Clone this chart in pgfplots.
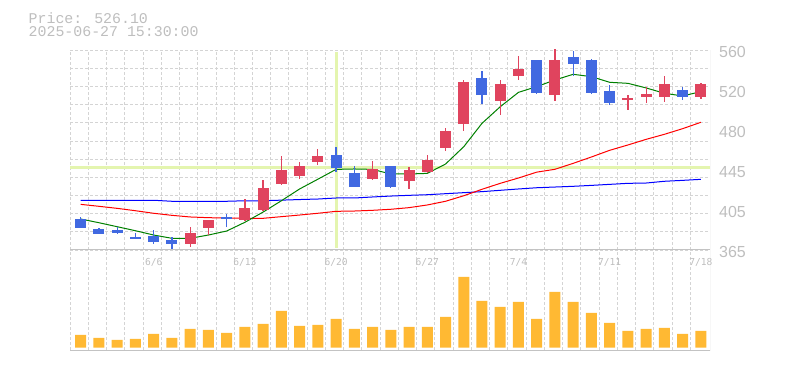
\documentclass[border=0pt]{standalone}
\usepackage{pgfplots}
\pgfplotsset{compat=1.18}
\usepackage{pgfplotstable}
\usepackage{fontspec}
\setmainfont{Liberation Sans}
\newfontfamily\monoA{Liberation Mono}
\newfontfamily\monoB{DejaVu Sans Mono}
\definecolor{txtc}{RGB}{190,190,190}
\definecolor{gridc}{RGB}{212,212,212}
\definecolor{bordc}{RGB}{195,195,195}
\definecolor{crossc}{RGB}{228,245,175}
\definecolor{upc}{RGB}{224,68,94}
\definecolor{dnc}{RGB}{65,105,225}
\definecolor{volc}{RGB}{255,185,51}
\definecolor{mag}{RGB}{0,128,0}
\definecolor{mar}{RGB}{255,0,0}
\definecolor{mab}{RGB}{0,0,255}

\pgfplotstableread{
x low high bot top
6 368.2 387.4 371.2 381.9
7 379.6 394.3 386.7 394.3
9 393.3 414.7 394.3 406.0
10 403.0 433.3 404.0 425.7
11 428.4 457.0 429.3 443.0
12 434.5 450.8 437.4 446.9
13 448.2 463.5 451.1 456.7
16 433.5 451.8 434.5 444.0
18 424.8 445.9 432.6 443.0
19 440.4 457.6 441.3 452.8
20 461.8 483.9 464.7 481.0
21 481.3 530.8 488.2 528.8
23 496.9 530.8 510.6 526.9
24 531.0 554.2 534.9 541.5
26 510.6 562.0 516.4 550.3
30 501.8 516.1 511.5 513.2
31 508.6 524.0 514.5 517.1
32 509.6 534.7 514.5 526.9
34 512.5 527.8 514.5 526.9
}\upcandles

\pgfplotstableread{
x low high bot top
0 386.7 397.2 386.7 395.2
1 380.9 386.7 380.9 385.5
2 380.6 387.4 381.9 384.5
3 376.0 381.9 376.0 377.7
4 371.2 384.5 373.1 378.7
5 366.3 377.4 371.2 374.8
8 387.4 400.4 395.5 397.2
14 441.3 465.4 445.2 457.6
15 426.7 446.9 426.7 440.1
17 425.7 446.9 426.7 446.9
22 507.6 539.5 516.4 532.7
25 517.1 550.3 518.1 550.3
27 534.7 559.0 546.6 553.2
28 517.4 551.2 518.4 550.3
29 506.7 525.9 508.6 520.0
33 511.5 524.0 514.5 521.0
}\dncandles

\pgfplotstableread{
x g r b vol
0 395.2 409.5 413.5 12.7
1 391.6 407.6 413.5 9.7
2 387.7 405.6 413.5 7.7
3 383.8 403.3 413.5 8.7
4 379.6 400.8 413.5 13.7
5 376.4 398.8 412.5 9.7
6 376.4 397.2 412.5 18.7
7 379.6 396.5 412.5 17.7
8 383.5 396.2 412.5 14.7
9 392.0 395.9 413.0 20.7
10 402.0 395.9 413.0 23.7
11 413.0 397.5 413.6 36.7
12 424.5 399.1 414.2 21.7
13 434.0 400.8 414.7 22.7
14 443.6 402.7 415.7 28.7
15 444.0 403.0 415.7 18.7
16 443.6 403.7 416.7 20.7
17 439.1 404.7 417.6 17.7
18 439.1 406.3 418.3 20.7
19 439.7 408.9 418.9 20.7
20 448.8 412.5 419.9 30.7
21 465.7 417.9 420.9 70.7
22 488.5 424.2 421.9 46.7
23 504.7 430.0 423.2 40.7
24 518.7 435.2 424.5 45.7
25 524.3 440.9 425.7 28.7
26 530.8 443.7 426.4 55.7
27 536.3 449.5 427.1 45.7
28 534.0 455.7 428.0 34.7
29 528.5 462.2 429.0 24.7
30 527.5 467.4 430.0 16.7
31 523.0 472.9 430.3 18.7
32 517.8 477.8 432.0 19.7
33 515.2 483.3 432.9 13.7
34 519.4 489.5 433.9 16.7
}\series

\pgfplotsset{
  panel/.style={
    scale only axis, width=640pt,
    xmin=-0.587, xmax=34.5,
    axis line style={draw=none},
    major tick length=0pt, minor tick length=0pt,
    minor xtick={-0.587,0.413,...,33.5},
    xminorgrids=true,
    minor grid style={gridc, line width=0.8pt, dash pattern=on 3pt off 2pt},
    xtick={4,9,14,19,24,29,34},
  },
}

\begin{document}
\begin{tikzpicture}
\useasboundingbox (0,0) rectangle (785pt,370pt);
\node[anchor=base west, inner sep=0pt, text=txtc, font=\monoA\fontsize{14.9}{16}\selectfont] at (28.5pt,346.7pt) {Price: 526.10};
\node[anchor=base west, inner sep=0pt, text=txtc, font=\monoA\fontsize{14.9}{16}\selectfont] at (28.5pt,333.2pt) {2025-06-27 15:30:00};

% price panel
\begin{axis}[panel, at={(70pt,120pt)}, anchor=south west, height=200pt,
  ymin=365, ymax=560,
  xticklabels={},
  ytick={365,404,443,482,521,560},
  yticklabels={365,405,445,480,520,560},
  yticklabel pos=right,
  yticklabel style={anchor=west, inner sep=0pt, xshift=9pt, yshift=-2pt, text=txtc, font=\fontsize{16}{18}\selectfont},
  minor ytick={365,382.727,400.455,418.182,435.909,453.636,471.364,489.091,506.818,524.545,542.273,560},
  yminorgrids=true,
]
\addplot[crossc, line width=3pt, forget plot] coordinates {(-0.587,445.6) (34.5,445.6)};
\addplot[crossc, line width=3pt, forget plot] coordinates {(14,367) (14,558.3)};
\addplot[mab, line width=1pt, no marks] table[x=x, y=b] {\series};
\addplot[mar, line width=1pt, no marks] table[x=x, y=r] {\series};
\addplot[mag, line width=1pt, no marks] table[x=x, y=g] {\series};
% wicks and bodies
\addplot[draw=none, mark=none, forget plot, error bars/.cd, y dir=plus, y explicit, error mark=none,
  error bar style={draw=upc, line width=1.3pt}]
  table[x=x, y=low, y error expr=\thisrow{high}-\thisrow{low}] {\upcandles};
\addplot[draw=none, mark=none, forget plot, error bars/.cd, y dir=plus, y explicit, error mark=none,
  error bar style={draw=upc, line width=11pt}]
  table[x=x, y=bot, y error expr=\thisrow{top}-\thisrow{bot}] {\upcandles};
\addplot[draw=none, mark=none, forget plot, error bars/.cd, y dir=plus, y explicit, error mark=none,
  error bar style={draw=dnc, line width=1.3pt}]
  table[x=x, y=low, y error expr=\thisrow{high}-\thisrow{low}] {\dncandles};
\addplot[draw=none, mark=none, forget plot, error bars/.cd, y dir=plus, y explicit, error mark=none,
  error bar style={draw=dnc, line width=11pt}]
  table[x=x, y=bot, y error expr=\thisrow{top}-\thisrow{bot}] {\dncandles};
\draw[bordc, line width=1pt] (rel axis cs:0,0) -- (rel axis cs:1,0) -- (rel axis cs:1,1);
\end{axis}

% volume panel
\begin{axis}[panel, at={(70pt,20pt)}, anchor=south west, height=100pt,
  ymin=-2.3, ymax=97.7, ytick=\empty,
  xticklabels={6/6,6/13,6/20,6/27,7/4,7/11,7/18},
  xticklabel pos=upper,
  xticklabel style={anchor=center, inner sep=0pt, yshift=-12pt, text=txtc, font=\monoB\fontsize{9.6}{11}\selectfont},
]
\addplot[ybar, bar width=11pt, fill=volc, draw=none] table[x=x, y=vol] {\series};
\draw[bordc, line width=1pt] (rel axis cs:0,0) -- (rel axis cs:1,0) -- (rel axis cs:1,1);
\end{axis}
\end{tikzpicture}
\end{document}
